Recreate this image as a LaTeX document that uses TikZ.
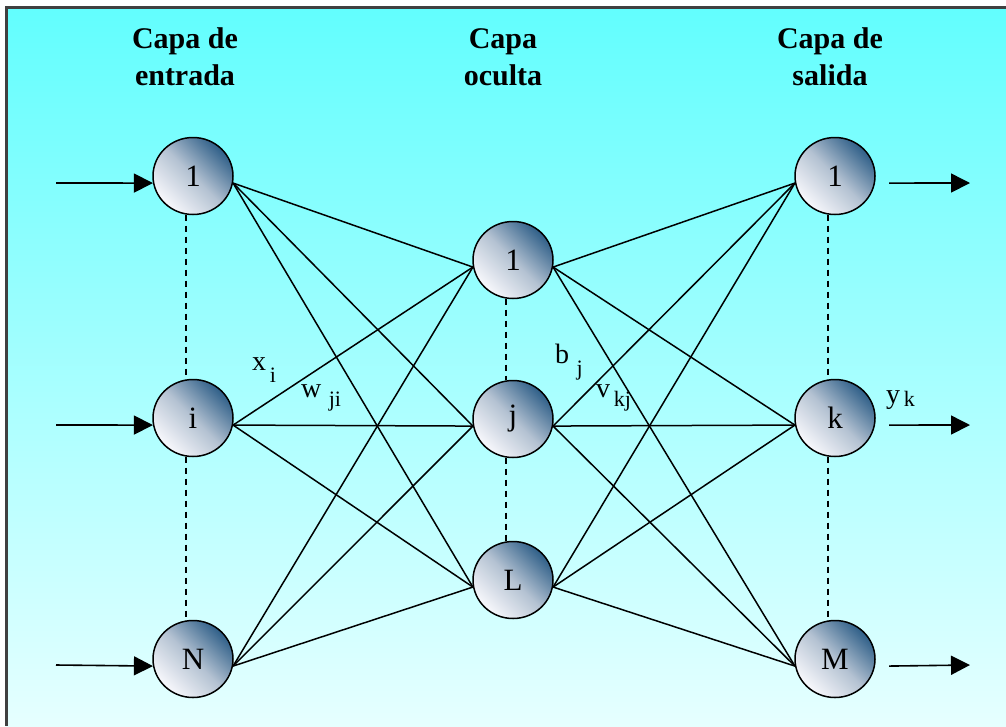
\documentclass[tikz,border=0pt]{standalone}
\usepackage{fontspec}
\setmainfont{Liberation Serif}
\usetikzlibrary{arrows.meta,shapes.geometric}
\definecolor{bgtop}{HTML}{62FEFE}
\definecolor{bgbot}{HTML}{E6FFFF}
\definecolor{ndark}{HTML}{2F5F88}
\definecolor{nmid}{HTML}{B4C2D2}
\definecolor{nlight}{HTML}{F8F8FC}
\definecolor{frame}{HTML}{404040}
\begin{document}
\begin{tikzpicture}[x=1pt,y=-1pt,
  neuron/.style={ellipse, draw=black, line width=1.5pt, minimum width=80pt,
    minimum height=77pt, inner sep=0pt, top color=ndark, bottom color=nlight,
    middle color=nmid, shading angle=-45, font=\fontsize{31}{31}\selectfont},
  hdr/.style={align=center, font=\bfseries\fontsize{30}{37}\selectfont, inner sep=0pt},
  lbl/.style={font=\fontsize{28}{28}\selectfont, inner sep=0pt},
  link/.style={line width=1.5pt},
  dots/.style={line width=1.7pt, dash pattern=on 6pt off 5pt},
  inarrow/.style={line width=1.6pt, -{Triangle[length=19pt,width=19pt]}}]
\useasboundingbox (0,0) rectangle (1006,726);
\fill[white] (0,0) rectangle (1006,726);
\shade[top color=bgtop, bottom color=bgbot] (6,7) rectangle (1006,726);
\draw[frame, line width=3pt] (6,726) -- (6,7) -- (1006,7);
% headers
\node[hdr] (t1) at (185,57) {Capa de\\entrada};
\node[hdr] (t2) at (503,57) {Capa\\oculta};
\node[hdr] (t3) at (830,57) {Capa de\\salida};
% neurons
\node[neuron] (i1) at (193,176) {1};
\node[neuron] (i2) at (193,418) {i};
\node[neuron] (i3) at (193,659) {N};
\node[neuron] (h1) at (513,260) {1};
\node[neuron] (h2) at (513,419) {j};
\node[neuron] (h3) at (513,580) {L};
\node[neuron] (o1) at (835,176) {1};
\node[neuron] (o2) at (835,418) {k};
\node[neuron] (o3) at (835,659) {M};
% dashed
\draw[dots] (i1.260) -- (i2.100);
\draw[dots] (i2.260) -- (i3.100);
\draw[dots] (h1.260) -- (h2.100);
\draw[dots] (h2.260) -- (h3.100);
\draw[dots] (o1.260) -- (o2.100);
\draw[dots] (o2.260) -- (o3.100);
% links
\foreach \a in {i1,i2,i3}{\foreach \b in {h1,h2,h3}{\draw[link] (\a.-10) -- (\b.190);}}
\foreach \a in {h1,h2,h3}{\foreach \b in {o1,o2,o3}{\draw[link] (\a.-10) -- (\b.190);}}
% in/out arrows
\coordinate (a1) at (56,183);
\coordinate (a2) at (56,425);
\coordinate (a3) at (56,665);
\coordinate (b1) at (970,183);
\coordinate (b2) at (970,425);
\coordinate (b3) at (970,665);
\draw[inarrow] (a1) -- (i1.190);
\draw[inarrow] (a2) -- (i2.190);
\draw[inarrow] (a3) -- (i3.190);
\draw[inarrow] ([xshift=14pt]o1.-10) -- (b1);
\draw[inarrow] ([xshift=14pt]o2.-10) -- (b2);
\draw[inarrow] ([xshift=14pt]o3.-10) -- (b3);
% labels
\node[lbl, anchor=west] (lx) at (252,370) {x\raisebox{-0.4em}{\fontsize{22}{22}\selectfont\,i}};
\node[lbl, anchor=west] (lw) at (301,398) {w\raisebox{-0.3em}{\fontsize{22}{22}\selectfont\,\,ji}};
\node[lbl, anchor=west] (lb) at (555,362) {b\raisebox{-0.45em}{\fontsize{22}{22}\selectfont\,\,j}};
\node[lbl, anchor=west] (lv) at (596,398) {v\raisebox{-0.3em}{\fontsize{22}{22}\selectfont\,kj}};
\node[lbl, anchor=west] (ly) at (886,400) {y\raisebox{-0.1em}{\fontsize{22}{22}\selectfont\,k}};
\end{tikzpicture}
\end{document}
